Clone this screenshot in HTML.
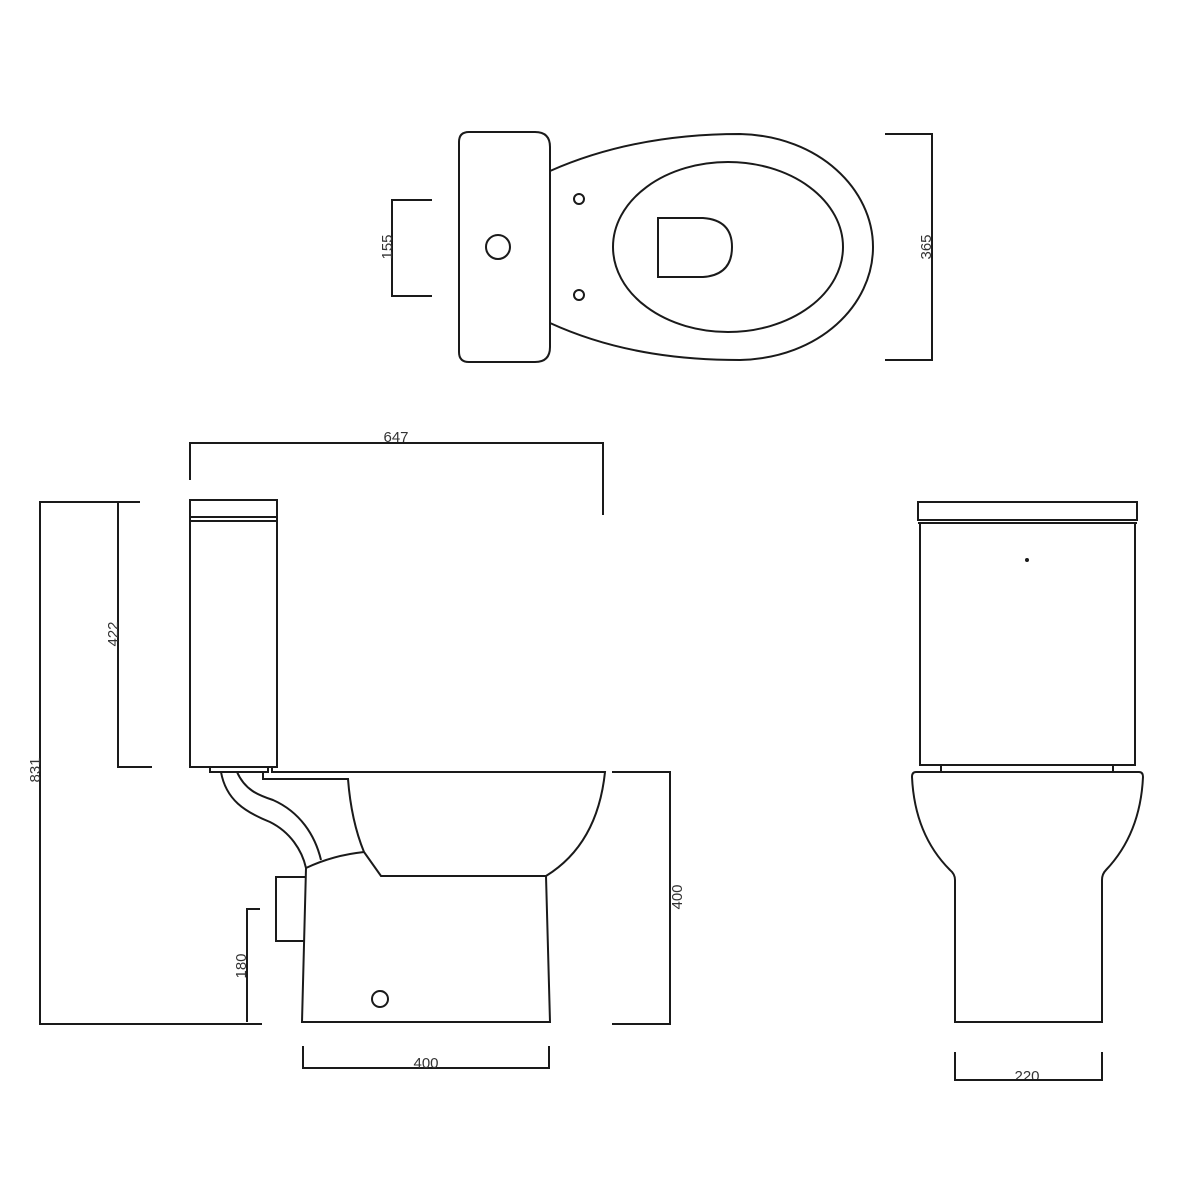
<!DOCTYPE html>
<html><head><style>html,body{margin:0;padding:0;background:#fff}svg{display:block}</style></head>
<body>
<svg width="1200" height="1200" viewBox="0 0 1200 1200" xmlns="http://www.w3.org/2000/svg" fill="none" stroke="#1a1a1a" stroke-width="2" font-family="Liberation Sans, sans-serif">
<!-- TOP VIEW -->
<path d="M469,132 H535 Q550,132 550,147 V347 Q550,362 535,362 H469 Q459,362 459,352 V142 Q459,132 469,132 Z"/>
<path d="M550,171 C620,140 690,134 740,134 C820,136 873,190 873,247 C873,305 820,358 740,360 C690,360 620,355 550,323"/>
<ellipse cx="728" cy="247" rx="115" ry="85"/>
<path d="M658,218 H703 Q732,220 732,247 Q732,275 703,277 H658 Z"/>
<circle cx="579" cy="199" r="5"/>
<circle cx="579" cy="295" r="5"/>
<circle cx="498" cy="247" r="12"/>
<path d="M432,200 H392 V296 H432"/>
<path d="M885,134 H932 V360 H885"/>
<g fill="#333" stroke="none" font-size="15">
<text transform="translate(392,247) rotate(-90)" text-anchor="middle">155</text>
<text transform="translate(931,247) rotate(-90)" text-anchor="middle">365</text>
</g>
<!-- SIDE VIEW -->
<rect x="190" y="500" width="87" height="267"/>
<path d="M190,517 H277 M190,521 H277"/>
<path d="M210,767 V772 H268 V767"/>
<path d="M272,767 V772 H605 C600,820 580,855 546,876 H381 L364,852 C355,830 350,805 348,779 H263 V772"/>
<path d="M221,772 C226,800 245,812 270,822 C290,832 302,850 306,868"/>
<path d="M237,772 C245,790 258,795 273,800 C300,812 315,835 321,860"/>
<path d="M306,868 C325,859 345,854 364,852"/>
<path d="M306,868 L302,1022 H550 L546,876"/>
<path d="M305,877 H276 V941 H304"/>
<circle cx="380" cy="999" r="8"/>
<!-- dims side -->
<path d="M190,480 V443 H603 V515"/>
<path d="M140,502 H40 V1024 H262"/>
<path d="M140,502 H118 V767 H152"/>
<path d="M260,909 H247 V1022"/>
<path d="M612,772 H670 V1024 H612"/>
<path d="M303,1046 V1068 H549 V1046"/>
<g fill="#333" stroke="none" font-size="15">
<text x="396" y="442" text-anchor="middle">647</text>
<text transform="translate(40,770) rotate(-90)" text-anchor="middle">831</text>
<text transform="translate(118,634) rotate(-90)" text-anchor="middle">422</text>
<text transform="translate(246,966) rotate(-90)" text-anchor="middle">180</text>
<text transform="translate(682,897) rotate(-90)" text-anchor="middle">400</text>
<text x="426" y="1068" text-anchor="middle">400</text>
<text x="1027" y="1081" text-anchor="middle">220</text>
</g>
<!-- FRONT VIEW -->
<rect x="918" y="502" width="219" height="18"/>
<path d="M918,523 H1137"/>
<path d="M920,523 V765 H1135 V523"/>
<path d="M941,765 V772 M1113,765 V772"/>
<path d="M916,772 H1139 Q1143,772 1143,777 C1141,820 1125,850 1106,870 Q1102,874 1102,880 V1022 H955 V880 Q955,874 950,870 C930,850 914,820 912,777 Q912,772 916,772 Z"/>
<circle cx="1027" cy="560" r="1" fill="#333"/>
<path d="M955,1052 V1080 H1102 V1052"/>
</svg>
</body></html>
